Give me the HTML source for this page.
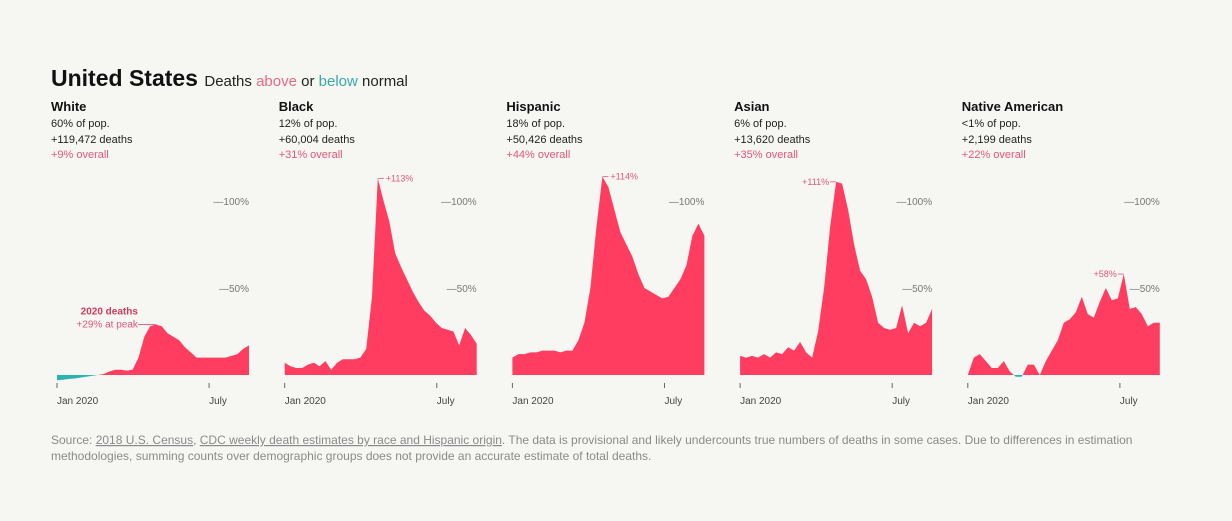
<!DOCTYPE html>
<html><head><meta charset="utf-8">
<style>
html,body{margin:0;padding:0;background:#f6f6f3;}
body{width:1232px;height:516px;overflow:hidden;font-family:"Liberation Sans",sans-serif;}
svg text{font-family:"Liberation Sans",sans-serif;}
</style></head>
<body>
<svg id="chart" width="1232" height="516" viewBox="0 0 1232 516" xmlns="http://www.w3.org/2000/svg">
<text x="51" y="86" font-size="23" font-weight="bold" fill="#111">United States <tspan font-size="15" font-weight="normal" fill="#222">Deaths <tspan fill="#e86a86">above</tspan> or <tspan fill="#3aa9a6">below</tspan> normal</tspan></text>
<text x="51" y="444" font-size="12" fill="#8a8a8a">Source: <tspan text-decoration="underline">2018 U.S. Census</tspan>, <tspan text-decoration="underline">CDC weekly death estimates by race and Hispanic origin</tspan>. The data is provisional and likely undercounts true numbers of deaths in some cases. Due to differences in estimation</text>
<text x="51" y="460" font-size="12" fill="#8a8a8a">methodologies, summing counts over demographic groups does not provide an accurate estimate of total deaths.</text>
</svg>
<script>
const groups = ["White","Black","Hispanic","Asian","Native American"];
const popShare = ["60% of pop.","12% of pop.","18% of pop.","6% of pop.","<1% of pop."];
const excessDeaths = ["+119,472 deaths","+60,004 deaths","+50,426 deaths","+13,620 deaths","+2,199 deaths"];
const overall = ["+9% overall","+31% overall","+44% overall","+35% overall","+22% overall"];
const whiteVals = [-3,-2.7,-2.3,-2,-1.5,-1,-0.5,0,0.5,2,3,3,2.5,3,10,22,28,29,28,24,22,20,16,13,10,10,10,10,10,10,11,12,15,17];
const blackVals = [7,5,4,4,6,7,5,8,3,7,9,9,9,10,15,45,113,100,88,70,62,55,48,42,37,34,30,27,26,25,17,27,23,18];
const hispanicVals = [10,12,12,13,13,14,14,14,13,14,14,20,30,50,85,114,108,95,82,75,68,58,50,48,46,44,45,50,55,63,80,87,80];
const asianVals = [11,10,11,10,12,10,13,12,16,14,19,13,10,25,50,85,111,110,95,75,60,55,45,30,27,26,27,40,24,30,28,30,38];
const nativeVals = [0,10,12,8,4,4,8,2,-1,-1,6,6,0,8,14,20,30,32,36,45,35,33,42,50,43,44,58,38,39,35,28,30,30];
const series = [whiteVals,blackVals,hispanicVals,asianVals,nativeVals];
const yTicks = [50,100];
const xTickLabels = ["Jan 2020","July"];
const xTickWeeks = [0,26];

const NS="http://www.w3.org/2000/svg";
const svg=document.getElementById('chart');
function mk(tag,attrs,parent){const e=document.createElementNS(NS,tag);for(const k in attrs)e.setAttribute(k,attrs[k]);(parent||svg).appendChild(e);return e;}
const base=375, pxPerPct=1.74, panelW=192, weekPx=5.85;
function yScale(v){return base-v*pxPerPct;}

series.forEach((vals,g)=>{
  const x0=57+g*227.7;
  const xScale=i=>x0+i*(panelW/(vals.length-1));
  const grp=mk('g',{});
  
  
  const h=mk('text',{x:x0-6,y:111,'font-size':13,'font-weight':'bold',fill:'#111'},grp);h.textContent=groups[g];
  
  const l1=mk('text',{x:x0-6,y:127,'font-size':11,fill:'#222'},grp);l1.textContent=popShare[g];
  
  const l2=mk('text',{x:x0-6,y:143,'font-size':11,fill:'#222'},grp);l2.textContent=excessDeaths[g];
  
  const l3=mk('text',{x:x0-6,y:158,'font-size':11,fill:'#e4577a'},grp);l3.textContent=overall[g];
  
  yTicks.forEach(t=>{
    const tt=mk('text',{x:x0+panelW,y:yScale(t)+4,'font-size':10,fill:'#777','text-anchor':'end'},grp);
    tt.textContent='\u2014'+t+'%';
    
  });
  let d='M'+xScale(0)+','+base;
  vals.forEach((v,i)=>{d+=' L'+xScale(i).toFixed(1)+','+yScale(v).toFixed(1);});
  d+=' L'+xScale(vals.length-1)+','+base+' Z';
  const cid='clip'+g;
  const defs=mk('defs',{},grp);
  const cpA=mk('clipPath',{id:cid+'a'},defs);mk('rect',{x:x0-2,y:0,width:panelW+4,height:base},cpA);
  const cpB=mk('clipPath',{id:cid+'b'},defs);mk('rect',{x:x0-2,y:base,width:panelW+4,height:40},cpB);
  const a=mk('path',{d:d,fill:'#fe3d61','clip-path':'url(#'+cid+'a)'},grp);
  
  const b=mk('path',{d:d,fill:'#2bb5b1','clip-path':'url(#'+cid+'b)'},grp);
  
  xTickWeeks.forEach((w,k)=>{
    const xx=x0+w*weekPx;
    const tl=mk('line',{x1:xx,x2:xx,y1:383,y2:388,stroke:'#666','stroke-width':1},grp);
    
    const tx=mk('text',{x:xx,y:404,'font-size':10,fill:'#444'},grp);tx.textContent=xTickLabels[k];
    
  });
  let pi=0;vals.forEach((v,i)=>{if(v>vals[pi])pi=i;});
  const px=xScale(pi),py=yScale(vals[pi]);
  if(g===0){
    const ln=mk('line',{x1:px-18,x2:px,y1:py,y2:py,stroke:'#e4577a','stroke-width':0.8},grp);
    
    const t1=mk('text',{x:px-18,y:py-10,'font-size':10,'font-weight':'bold',fill:'#d33a60','text-anchor':'end'},grp);t1.textContent='2020 deaths';
    
    const t2=mk('text',{x:px-18,y:py+3,'font-size':10,fill:'#e4577a','text-anchor':'end'},grp);t2.textContent='+'+vals[pi]+'% at peak';
    
  } else if(g===1||g===2){
    const ln=mk('line',{x1:px,x2:px+6,y1:py,y2:py,stroke:'#e4577a','stroke-width':0.8},grp);
    
    const t=mk('text',{x:px+8,y:py+3,'font-size':9,fill:'#e4577a'},grp);t.textContent='+'+vals[pi]+'%';
    
  } else {
    const ln=mk('line',{x1:px-6,x2:px,y1:py,y2:py,stroke:'#e4577a','stroke-width':0.8},grp);
    
    const t=mk('text',{x:px-7,y:py+3,'font-size':9,fill:'#e4577a','text-anchor':'end'},grp);t.textContent='+'+vals[pi]+'%';
    
  }
});
</script>
</body></html>
